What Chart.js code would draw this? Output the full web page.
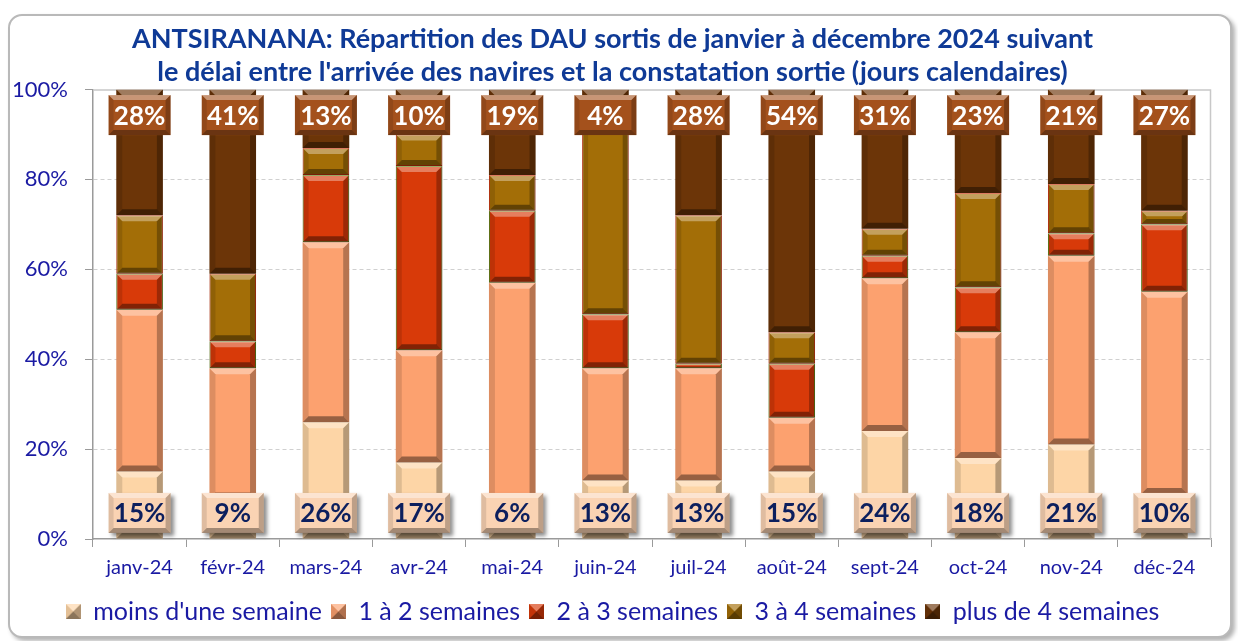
<!DOCTYPE html>
<html lang="fr">
<head>
<meta charset="utf-8">
<title>ANTSIRANANA - délai DAU</title>
<script src="https://cdn.jsdelivr.net/npm/chart.js@4.4.1/dist/chart.umd.min.js"></script>
<style>
    html, body { margin: 0; padding: 0; background: #fff; }
    #cadre {
        position: absolute; left: 8px; top: 14px;
        width: 1220px; height: 620px;
        border: 2px solid #b9b9b9; border-radius: 14px;
        box-shadow: 3px 3px 4px rgba(0, 0, 0, 0.3);
        background: #fff;
    }
    #graph { position: absolute; left: 0; top: 0; }
</style>
</head>
<body>
<div id="cadre"></div>
<canvas id="graph" width="1238" height="641"></canvas>
<script>
// -----------------------------------------
// Données (en %)
// -----------------------------------------
const mois = ["janv-24", "févr-24", "mars-24", "avr-24", "mai-24", "juin-24",
              "juil-24", "août-24", "sept-24", "oct-24", "nov-24", "déc-24"];

const moinsUneSemaine = [15, 9, 26, 17, 6, 13, 13, 15, 24, 18, 21, 10];
const unADeuxSemaines = [36, 29, 40, 25, 51, 25, 25, 12, 34, 28, 42, 45];
const deuxATroisSemaines = [8, 6, 15, 41, 16, 12, 1, 12, 5, 10, 5, 15];
const troisAQuatreSemaines = [13, 15, 6, 7, 8, 46, 33, 7, 6, 21, 11, 3];
const plusDeQuatreSemaines = [28, 41, 13, 10, 19, 4, 28, 54, 31, 23, 21, 27];

const graduations = [0, 20, 40, 60, 80, 100];

const titre = [
    "ANTSIRANANA: Répartition des DAU sortis de janvier à décembre 2024 suivant",
    "le délai entre l'arrivée des navires et la constatation sortie (jours calendaires)"
];

const POLICE = "Lato, 'Open Sans', sans-serif";
const BLEU = "#1a1aa3";


// -----------------------------------------
// Petit relief (biseau) sur un rectangle
// -----------------------------------------
function biseau(ctx, L, T, R, B, b, clair, sombre) {
    const h = B - T;
    b = Math.min(b, h / 2.5, (R - L) / 3);
    if (b <= 0.5) return;

    ctx.save();
    ctx.fillStyle = "rgba(255,255,255," + clair + ")";
    ctx.beginPath();
    ctx.moveTo(L, T); ctx.lineTo(R, T); ctx.lineTo(R - b, T + b); ctx.lineTo(L + b, T + b);
    ctx.closePath(); ctx.fill();

    ctx.fillStyle = "rgba(0,0,0," + (sombre * 0.3) + ")";
    ctx.beginPath();
    ctx.moveTo(L, T); ctx.lineTo(L + b, T + b); ctx.lineTo(L + b, B - b); ctx.lineTo(L, B);
    ctx.closePath(); ctx.fill();

    ctx.fillStyle = "rgba(0,0,0," + (sombre * 0.7) + ")";
    ctx.beginPath();
    ctx.moveTo(R, T); ctx.lineTo(R, B); ctx.lineTo(R - b, B - b); ctx.lineTo(R - b, T + b);
    ctx.closePath(); ctx.fill();

    ctx.fillStyle = "rgba(0,0,0," + sombre + ")";
    ctx.beginPath();
    ctx.moveTo(L, B); ctx.lineTo(R, B); ctx.lineTo(R - b, B - b); ctx.lineTo(L + b, B - b);
    ctx.closePath(); ctx.fill();
    ctx.restore();
}

const reliefBarres = {
    id: "reliefBarres",
    afterDatasetsDraw(chart) {
        const ctx = chart.ctx;
        chart.data.datasets.forEach((ds, i) => {
            const meta = chart.getDatasetMeta(i);
            meta.data.forEach(bar => {
                const p = bar.getProps(["x", "y", "base", "width"], true);
                const L = p.x - p.width / 2, R = p.x + p.width / 2;
                const T = Math.min(p.y, p.base), B = Math.max(p.y, p.base);
                biseau(ctx, L, T, R, B, 6, 0.35, 0.4);
            });
        });
    }
};


// -----------------------------------------
// Cadre de la zone de traçage (haut + droite)
// -----------------------------------------
const cadreZone = {
    id: "cadreZone",
    beforeDatasetsDraw(chart) {
        const a = chart.chartArea, ctx = chart.ctx;
        ctx.save();
        ctx.strokeStyle = "#c8c8c8";
        ctx.lineWidth = 1.5;
        ctx.beginPath();
        ctx.moveTo(a.left, a.top + 0.5);
        ctx.lineTo(a.right - 0.5, a.top + 0.5);
        ctx.lineTo(a.right - 0.5, a.bottom);
        ctx.stroke();
        ctx.restore();
    }
};


// -----------------------------------------
// Étiquettes : haut (plus de 4 sem.) et bas (moins d'une sem.)
// -----------------------------------------
function etiquette(ctx, cx, cy, texte, fond, couleurTexte, ombre) {
    const w = 62, h = 40;
    const L = cx - w / 2, T = cy - h / 2;
    ctx.save();
    if (ombre) {
        ctx.shadowColor = "rgba(0,0,0,0.45)";
        ctx.shadowBlur = 4;
        ctx.shadowOffsetX = 3;
        ctx.shadowOffsetY = 3;
    }
    ctx.fillStyle = fond;
    ctx.fillRect(L, T, w, h);
    ctx.restore();
    biseau(ctx, L, T, L + w, T + h, 5, 0.4, 0.35);

    ctx.save();
    ctx.fillStyle = couleurTexte;
    ctx.font = "bold 26px " + POLICE;
    ctx.textAlign = "center";
    ctx.textBaseline = "middle";
    ctx.fillText(texte, cx, cy + 1);
    ctx.restore();
}

const etiquettes = {
    id: "etiquettes",
    afterDatasetsDraw(chart) {
        const ctx = chart.ctx;
        const y = chart.scales.y;
        const hautMeta = chart.getDatasetMeta(4);
        const basMeta = chart.getDatasetMeta(0);

        hautMeta.data.forEach((bar, i) => {
            etiquette(ctx, bar.x, y.getPixelForValue(94.3),
                plusDeQuatreSemaines[i] + "%", "#a4511c", "#ffffff", false);
        });
        basMeta.data.forEach((bar, i) => {
            etiquette(ctx, bar.x, y.getPixelForValue(5.8),
                moinsUneSemaine[i] + "%", "#fad3b3", "#0c1f5e", true);
        });
    }
};


// -----------------------------------------
// Icônes de légende (petite pyramide)
// -----------------------------------------
function iconeLegende(couleur) {
    const c = document.createElement("canvas");
    c.width = 15; c.height = 15;
    const g = c.getContext("2d");
    g.fillStyle = couleur;
    g.fillRect(0, 0, 15, 15);
    const m = 7.5;
    const faces = [
        [[0, 0], [15, 0], [m, m], "rgba(255,255,255,0.35)"],
        [[0, 0], [0, 15], [m, m], "rgba(0,0,0,0.1)"],
        [[15, 0], [15, 15], [m, m], "rgba(0,0,0,0.3)"],
        [[0, 15], [15, 15], [m, m], "rgba(0,0,0,0.45)"]
    ];
    faces.forEach(f => {
        g.fillStyle = f[3];
        g.beginPath();
        g.moveTo(f[0][0], f[0][1]); g.lineTo(f[1][0], f[1][1]); g.lineTo(f[2][0], f[2][1]);
        g.closePath(); g.fill();
    });
    return c;
}


// -----------------------------------------
// Diagramme
// -----------------------------------------
function serie(label, data, couleur, bord) {
    return {
        label: label,
        data: data,
        backgroundColor: couleur,
        borderColor: bord || couleur,
        borderWidth: bord ? 1 : 0,
        borderSkipped: false,
        barPercentage: 0.5,
        categoryPercentage: 1.0,
        pointStyle: iconeLegende(couleur)
    };
}

const ctx = document.getElementById("graph").getContext("2d");

new Chart(ctx, {
    type: "bar",
    data: {
        labels: mois,
        datasets: [
            serie("moins d'une semaine", moinsUneSemaine, "#fdd5a6"),
            serie("1 à 2 semaines", unADeuxSemaines, "#fca16f"),
            serie("2 à 3 semaines", deuxATroisSemaines, "#d83a09", "#5f7f10"),
            serie("3 à 4 semaines", troisAQuatreSemaines, "#a36e07", "#c8320c"),
            serie("plus de 4 semaines", plusDeQuatreSemaines, "#6c3508")
        ]
    },
    options: {
        responsive: false,
        animation: false,
        devicePixelRatio: 1,
        layout: { padding: { left: 14, right: 27, top: 0, bottom: 7 } },
        plugins: {
            title: {
                display: true,
                text: titre,
                color: "#0f3a96",
                font: { family: POLICE, size: 27, weight: "bold", lineHeight: 1.25 },
                padding: { top: 22, bottom: 0 }
            },
            legend: {
                position: "bottom",
                labels: {
                    usePointStyle: true,
                    color: BLEU,
                    font: { family: POLICE, size: 25 },
                    padding: 9,
                    boxWidth: 15,
                    boxHeight: 15
                }
            },
            tooltip: { enabled: false }
        },
        scales: {
            x: {
                stacked: true,
                grid: { display: true, drawOnChartArea: false, drawTicks: true, tickLength: 8, color: "#9a9a9a", offset: true },
                border: { color: "#9a9a9a", width: 1.5 },
                ticks: { color: BLEU, font: { family: POLICE, size: 20 }, padding: 9, maxRotation: 0 },
                afterFit(scale) { scale.height = 51; }
            },
            y: {
                stacked: true,
                min: 0,
                max: 100,
                afterBuildTicks(scale) {
                    scale.ticks = graduations.map(v => ({ value: v }));
                },
                ticks: {
                    color: BLEU,
                    font: { family: POLICE, size: 22 },
                    padding: 17,
                    callback: v => v + "%"
                },
                grid: {
                    color: ctx => (ctx.tick && ctx.tick.value > 0 && ctx.tick.value < 100) ? "#d0d0d0" : "rgba(0,0,0,0)",
                    tickColor: "#9a9a9a",
                    tickLength: 8,
                    lineWidth: 1
                },
                border: { color: "#9a9a9a", width: 1.5, dash: [4, 3] },
                afterFit(scale) { scale.width = 79; }
            }
        }
    },
    plugins: [cadreZone, reliefBarres, etiquettes]
});
</script>
</body>
</html>
